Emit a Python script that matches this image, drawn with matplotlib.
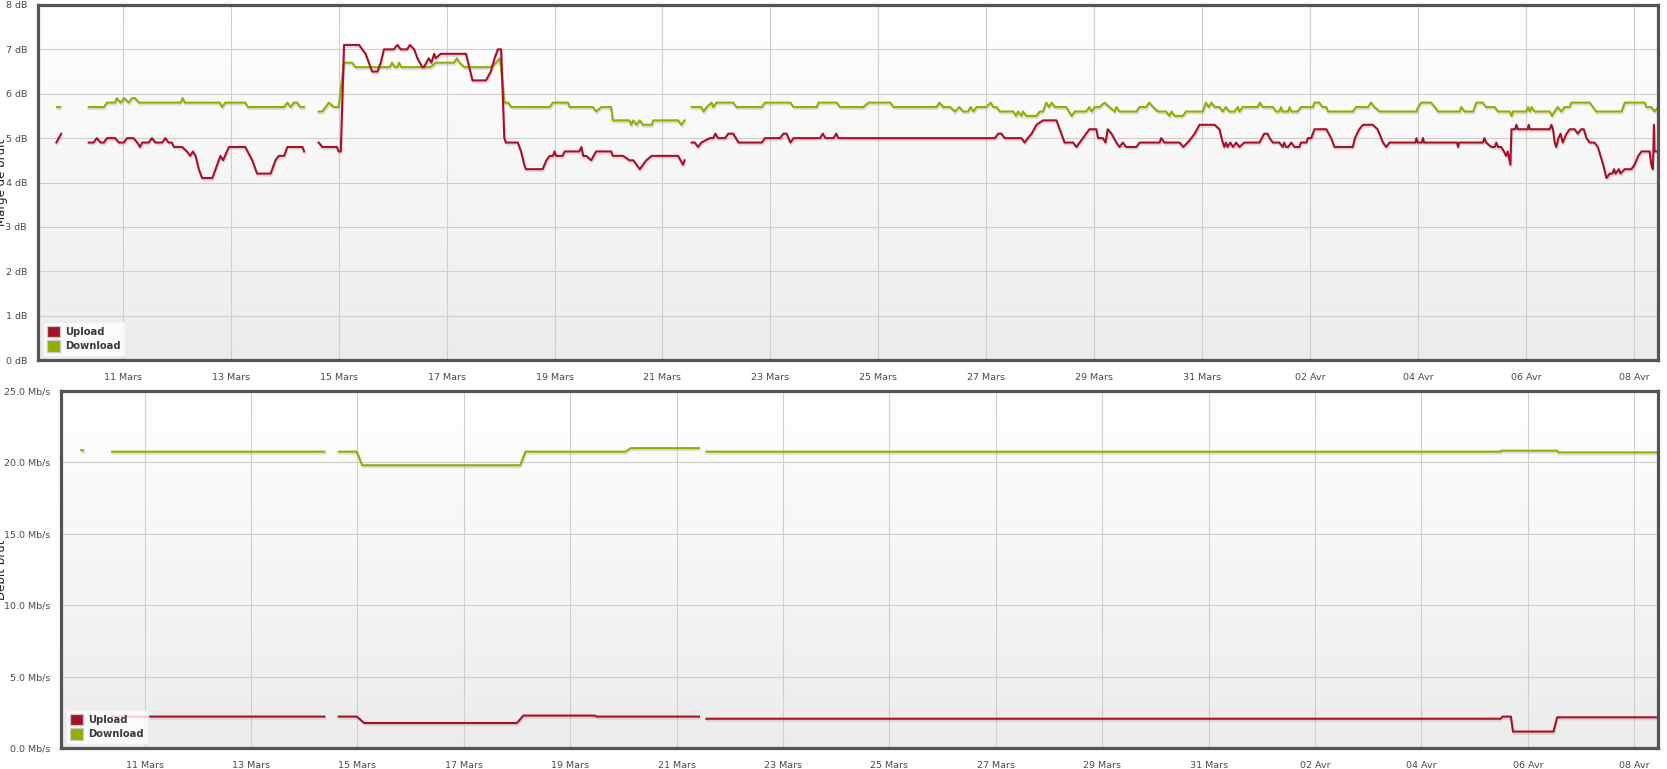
import numpy as np
import matplotlib
matplotlib.use("Agg")
import matplotlib.pyplot as plt
from matplotlib.patches import Patch
from matplotlib.colors import LinearSegmentedColormap
import matplotlib.patheffects as pe

# ---------------- data (x = days since 11 Mars 00:00) ----------------
xtick_days = [0, 2, 4, 6, 8, 10, 12, 14, 16, 18, 20, 22, 24, 26, 28]
xtick_labels = ["11 Mars", "13 Mars", "15 Mars", "17 Mars", "19 Mars", "21 Mars",
                "23 Mars", "25 Mars", "27 Mars", "29 Mars", "31 Mars",
                "02 Avr", "04 Avr", "06 Avr", "08 Avr"]
series_names = ["Upload", "Download"]

# Marge de bruit (dB) - Upload
snr_up = [(-1.23, 4.9), (-1.14, 5.1), None,
    (-0.63, 4.9), (-0.54, 4.9), (-0.48, 5.0), (-0.41, 4.9), (-0.35, 4.9), (-0.29, 5.0), (-0.14, 5.0),
    (-0.07, 4.9), (0.02, 4.9), (0.08, 5.0), (0.20, 5.0), (0.27, 4.9), (0.32, 4.8), (0.36, 4.9),
    (0.48, 4.9), (0.54, 5.0), (0.61, 4.9), (0.73, 4.9), (0.79, 5.0), (0.85, 4.9), (0.91, 4.9),
    (0.95, 4.8), (1.10, 4.8), (1.19, 4.7), (1.25, 4.6), (1.30, 4.7), (1.35, 4.6), (1.41, 4.3),
    (1.47, 4.1), (1.66, 4.1), (1.75, 4.4), (1.81, 4.6), (1.86, 4.5), (1.93, 4.7), (1.97, 4.8),
    (2.27, 4.8), (2.40, 4.5), (2.49, 4.2), (2.74, 4.2), (2.83, 4.5), (2.89, 4.6), (2.99, 4.6),
    (3.05, 4.8), (3.33, 4.8), (3.36, 4.7), None,
    (3.63, 4.9), (3.70, 4.8), (3.97, 4.8), (4.00, 4.7), (4.04, 4.7), (4.10, 7.1), (4.38, 7.1),
    (4.50, 6.9), (4.59, 6.6), (4.62, 6.5), (4.72, 6.5), (4.78, 6.7), (4.84, 7.0), (5.02, 7.0),
    (5.09, 7.1), (5.15, 7.0), (5.27, 7.0), (5.32, 7.1), (5.40, 7.0), (5.46, 6.8), (5.55, 6.6),
    (5.58, 6.6), (5.67, 6.8), (5.72, 6.7), (5.77, 6.9), (5.80, 6.8), (5.89, 6.9), (6.36, 6.9),
    (6.42, 6.6), (6.48, 6.3), (6.73, 6.3), (6.82, 6.5), (6.89, 6.8), (6.95, 7.0), (7.01, 7.0),
    (7.07, 5.0), (7.10, 4.9), (7.32, 4.9), (7.38, 4.7), (7.44, 4.4), (7.47, 4.3), (7.78, 4.3),
    (7.85, 4.5), (7.91, 4.6), (7.97, 4.6), (8.00, 4.7), (8.03, 4.6), (8.15, 4.6), (8.19, 4.7),
    (8.46, 4.7), (8.50, 4.8), (8.53, 4.6), (8.59, 4.6), (8.68, 4.5), (8.77, 4.7), (9.05, 4.7),
    (9.08, 4.6), (9.27, 4.6), (9.39, 4.5), (9.46, 4.5), (9.58, 4.3), (9.70, 4.5), (9.80, 4.6),
    (10.29, 4.6), (10.38, 4.4), (10.41, 4.5), None,
    (10.54, 4.9), (10.60, 4.9), (10.66, 4.8), (10.72, 4.9), (10.88, 5.0), (10.94, 5.0), (10.98, 5.1),
    (11.03, 5.0), (11.16, 5.0), (11.22, 5.1), (11.31, 5.1), (11.41, 4.9), (11.84, 4.9), (11.90, 5.0),
    (12.18, 5.0), (12.24, 5.1), (12.30, 5.1), (12.37, 4.9), (12.43, 5.0), (12.92, 5.0), (12.97, 5.1),
    (13.02, 5.0), (13.17, 5.0), (13.22, 5.1), (13.26, 5.0), (16.16, 5.0), (16.22, 5.1), (16.28, 5.1),
    (16.34, 5.0), (16.65, 5.0), (16.71, 4.9), (16.77, 5.0), (16.84, 5.1), (16.93, 5.3), (17.05, 5.4),
    (17.30, 5.4), (17.36, 5.2), (17.45, 4.9), (17.61, 4.9), (17.67, 4.8), (17.73, 4.9), (17.79, 5.0),
    (17.85, 5.1), (17.91, 5.2), (18.04, 5.2), (18.07, 5.0), (18.16, 5.0), (18.21, 4.9), (18.25, 5.2),
    (18.32, 5.1), (18.41, 4.9), (18.47, 4.8), (18.53, 4.9), (18.59, 4.8), (18.78, 4.8), (18.84, 4.9),
    (19.21, 4.9), (19.24, 5.0), (19.30, 4.9), (19.58, 4.9), (19.65, 4.8), (19.73, 4.9), (19.80, 5.0),
    (19.86, 5.1), (19.95, 5.3), (20.23, 5.3), (20.32, 5.2), (20.38, 4.9), (20.41, 4.8), (20.44, 4.9),
    (20.47, 4.8), (20.52, 4.9), (20.57, 4.8), (20.63, 4.9), (20.69, 4.8), (20.78, 4.9), (21.06, 4.9),
    (21.15, 5.1), (21.21, 5.1), (21.25, 5.0), (21.31, 4.9), (21.43, 4.9), (21.49, 4.8), (21.52, 4.9),
    (21.55, 4.8), (21.59, 4.8), (21.65, 4.9), (21.71, 4.8), (21.80, 4.8), (21.83, 4.9), (21.93, 4.9),
    (21.96, 5.0), (22.02, 5.0), (22.05, 5.1), (22.08, 5.2), (22.30, 5.2), (22.39, 5.0), (22.45, 4.8),
    (22.79, 4.8), (22.83, 5.0), (22.91, 5.2), (22.98, 5.3), (23.16, 5.3), (23.25, 5.2), (23.35, 4.9),
    (23.41, 4.8), (23.47, 4.9), (23.95, 4.9), (23.97, 5.0), (23.99, 4.9), (24.07, 4.9), (24.09, 5.0),
    (24.11, 4.9), (24.72, 4.9), (24.74, 4.8), (24.76, 4.9), (25.20, 4.9), (25.23, 5.0), (25.26, 4.9),
    (25.36, 4.8), (25.42, 4.8), (25.45, 4.9), (25.48, 4.8), (25.54, 4.8), (25.59, 4.7), (25.63, 4.6),
    (25.66, 4.7), (25.71, 4.4), (25.73, 5.2), (25.80, 5.2), (25.82, 5.3), (25.85, 5.2), (26.03, 5.2),
    (26.05, 5.3), (26.07, 5.2), (26.44, 5.2), (26.47, 5.3), (26.50, 5.2), (26.53, 4.9), (26.56, 4.8),
    (26.60, 5.0), (26.64, 5.1), (26.68, 4.9), (26.75, 5.1), (26.81, 5.2), (26.90, 5.2), (26.96, 5.1),
    (27.02, 5.2), (27.07, 5.2), (27.12, 5.0), (27.18, 4.9), (27.27, 4.9), (27.33, 4.8), (27.38, 4.6),
    (27.43, 4.4), (27.49, 4.1), (27.55, 4.2), (27.60, 4.2), (27.63, 4.3), (27.66, 4.2), (27.72, 4.3),
    (27.75, 4.2), (27.83, 4.3), (27.95, 4.3), (28.01, 4.4), (28.08, 4.6), (28.14, 4.7), (28.29, 4.7),
    (28.32, 4.4), (28.35, 4.3), (28.37, 5.3), (28.38, 4.7), (28.50, 4.7)]

# Marge de bruit (dB) - Download
snr_down = [(-1.22, 5.7), (-1.16, 5.7), None,
    (-0.63, 5.7), (-0.35, 5.7), (-0.29, 5.8), (-0.14, 5.8), (-0.11, 5.9), (-0.04, 5.8), (0.03, 5.9),
    (0.11, 5.8), (0.17, 5.9), (0.23, 5.9), (0.30, 5.8), (1.07, 5.8), (1.11, 5.9), (1.15, 5.8),
    (1.80, 5.8), (1.84, 5.7), (1.90, 5.8), (2.27, 5.8), (2.32, 5.7), (2.99, 5.7), (3.05, 5.8),
    (3.11, 5.7), (3.17, 5.8), (3.23, 5.8), (3.29, 5.7), (3.36, 5.7), None,
    (3.63, 5.6), (3.70, 5.6), (3.82, 5.8), (3.91, 5.7), (4.00, 5.7), (4.10, 6.7), (4.25, 6.7),
    (4.31, 6.6), (4.95, 6.6), (4.99, 6.7), (5.04, 6.6), (5.09, 6.6), (5.12, 6.7), (5.16, 6.6),
    (5.70, 6.6), (5.80, 6.7), (6.14, 6.7), (6.19, 6.8), (6.24, 6.7), (6.33, 6.6), (6.82, 6.6),
    (6.92, 6.7), (6.99, 6.8), (7.04, 6.2), (7.07, 5.8), (7.14, 5.8), (7.20, 5.7), (7.91, 5.7),
    (7.97, 5.8), (8.25, 5.8), (8.28, 5.7), (8.71, 5.7), (8.77, 5.6), (8.87, 5.7), (9.05, 5.7),
    (9.08, 5.4), (9.39, 5.4), (9.42, 5.3), (9.46, 5.4), (9.52, 5.3), (9.58, 5.4), (9.64, 5.3),
    (9.80, 5.3), (9.83, 5.4), (10.29, 5.4), (10.35, 5.3), (10.41, 5.4), None,
    (10.54, 5.7), (10.72, 5.7), (10.76, 5.6), (10.82, 5.7), (10.91, 5.8), (10.94, 5.7), (11.00, 5.8),
    (11.31, 5.8), (11.37, 5.7), (11.84, 5.7), (11.90, 5.8), (12.37, 5.8), (12.43, 5.7), (12.86, 5.7),
    (12.89, 5.8), (13.23, 5.8), (13.29, 5.7), (13.72, 5.7), (13.82, 5.8), (14.22, 5.8), (14.28, 5.7),
    (15.08, 5.7), (15.13, 5.8), (15.20, 5.7), (15.33, 5.7), (15.42, 5.6), (15.50, 5.7), (15.57, 5.6),
    (15.66, 5.6), (15.71, 5.7), (15.76, 5.6), (15.82, 5.7), (16.00, 5.7), (16.08, 5.8), (16.13, 5.7),
    (16.19, 5.7), (16.25, 5.6), (16.50, 5.6), (16.55, 5.5), (16.59, 5.6), (16.65, 5.5), (16.68, 5.6),
    (16.74, 5.5), (16.93, 5.5), (16.99, 5.6), (17.05, 5.6), (17.11, 5.8), (17.16, 5.7), (17.21, 5.8),
    (17.27, 5.7), (17.48, 5.7), (17.58, 5.5), (17.64, 5.6), (17.85, 5.6), (17.91, 5.7), (17.95, 5.6),
    (18.01, 5.7), (18.10, 5.7), (18.19, 5.8), (18.28, 5.7), (18.38, 5.6), (18.41, 5.7), (18.47, 5.6),
    (18.78, 5.6), (18.84, 5.7), (18.96, 5.7), (19.02, 5.8), (19.09, 5.7), (19.18, 5.6), (19.33, 5.6),
    (19.39, 5.5), (19.43, 5.6), (19.49, 5.5), (19.64, 5.5), (19.70, 5.6), (20.01, 5.6), (20.07, 5.8),
    (20.12, 5.7), (20.17, 5.8), (20.23, 5.7), (20.32, 5.7), (20.38, 5.6), (20.44, 5.7), (20.50, 5.6),
    (20.60, 5.6), (20.66, 5.7), (20.69, 5.6), (20.75, 5.7), (21.03, 5.7), (21.07, 5.8), (21.12, 5.7),
    (21.31, 5.7), (21.37, 5.6), (21.43, 5.6), (21.46, 5.7), (21.49, 5.6), (21.59, 5.6), (21.62, 5.7),
    (21.65, 5.6), (21.77, 5.6), (21.83, 5.7), (22.05, 5.7), (22.08, 5.8), (22.17, 5.8), (22.23, 5.7),
    (22.30, 5.7), (22.33, 5.6), (22.79, 5.6), (22.85, 5.7), (23.07, 5.7), (23.13, 5.8), (23.19, 5.7),
    (23.29, 5.6), (23.97, 5.6), (24.00, 5.7), (24.06, 5.8), (24.24, 5.8), (24.31, 5.7), (24.37, 5.6),
    (24.77, 5.6), (24.80, 5.7), (24.86, 5.6), (25.02, 5.6), (25.05, 5.7), (25.08, 5.8), (25.20, 5.8),
    (25.26, 5.7), (25.42, 5.7), (25.48, 5.6), (25.70, 5.6), (25.73, 5.5), (25.76, 5.6), (26.00, 5.6),
    (26.04, 5.7), (26.07, 5.6), (26.10, 5.7), (26.16, 5.6), (26.44, 5.6), (26.48, 5.5), (26.53, 5.6),
    (26.59, 5.7), (26.65, 5.6), (26.72, 5.7), (26.81, 5.7), (26.84, 5.8), (27.18, 5.8), (27.24, 5.7),
    (27.30, 5.6), (27.77, 5.6), (27.80, 5.7), (27.83, 5.8), (28.20, 5.8), (28.23, 5.7), (28.32, 5.7),
    (28.38, 5.6), (28.45, 5.7), (28.50, 5.7)]

# Débit brut (Mb/s)
rate_up = [(-1.19, 2.2), (-1.15, 2.2), None,
    (-0.61, 2.2), (3.38, 2.2), None,
    (3.65, 2.2), (3.99, 2.2), (4.13, 1.75), (7.00, 1.75), (7.12, 2.27), (8.46, 2.27), (8.50, 2.2),
    (10.42, 2.2), None,
    (10.56, 2.05), (25.49, 2.05), (25.52, 2.2), (25.68, 2.2), (25.72, 1.15), (26.48, 1.15),
    (26.55, 2.15), (28.50, 2.15)]
rate_down = [(-1.19, 20.85), (-1.15, 20.85), None,
    (-0.61, 20.75), (3.38, 20.75), None,
    (3.65, 20.75), (3.99, 20.75), (4.09, 19.8), (7.06, 19.8), (7.16, 20.75), (9.04, 20.75),
    (9.14, 21.0), (10.42, 21.0), None,
    (10.56, 20.75), (25.49, 20.75), (25.50, 20.82), (26.55, 20.82), (26.57, 20.7), (28.50, 20.7)]

snr_ticks = [0, 1, 2, 3, 4, 5, 6, 7, 8]
rate_ticks = [0, 5, 10, 15, 20, 25]

# ---------------- style ----------------
RED = "#A8102A"
GREEN = "#93AD00"
FRAME = "#545454"
GRID = "#cfcfcf"
TXT = "#4a4a4a"


def split(points):
    xs, ys = [], []
    for p in points:
        if p is None:
            xs.append(np.nan); ys.append(np.nan)
        else:
            xs.append(p[0]); ys.append(p[1])
    return np.array(xs, float), np.array(ys, float)


W, H = 1667, 769
fig = plt.figure(figsize=(W / 100, H / 100), dpi=100)
plt.rcParams["font.family"] = ["DejaVu Sans"]

def make_ax(left, top, right, bottom):
    return fig.add_axes([left / W, 1 - bottom / H, (right - left) / W, (bottom - top) / H])

ax1 = make_ax(38, 5, 1658, 360)
ax2 = make_ax(61, 391, 1658, 748)

grad_cmap = LinearSegmentedColormap.from_list("bg", ["#ececec", "#ffffff"])
shadow = [pe.SimpleLineShadow(offset=(0.6, -1.4), shadow_color="#888888", alpha=0.25), pe.Normal()]

def style(ax, ylim, yticks, yfmt, ylabel_text, ylabel_y):
    ax.imshow(np.linspace(0, 1, 256).reshape(-1, 1), cmap=grad_cmap, origin="lower",
              extent=(0, 1, 0, 1), transform=ax.transAxes, aspect="auto", zorder=0)
    ax.set_xlim(-1.57, 28.445)
    ax.set_ylim(*ylim)
    ax.set_xticks(xtick_days)
    ax.set_xticklabels(xtick_labels)
    ax.set_yticks(yticks)
    ax.set_yticklabels([yfmt(v) for v in yticks])
    ax.grid(True, color=GRID, linewidth=0.8, zorder=1)
    ax.set_axisbelow(True)
    ax.tick_params(length=0, labelsize=6.8, colors=TXT, pad=8)
    ax.tick_params(axis="x", pad=9)
    for s in ax.spines.values():
        s.set_color(FRAME)
        s.set_linewidth(2.3)
        s.set_zorder(5)
    fig.text(1.2 / W, 1 - ylabel_y / H, ylabel_text, rotation=90, ha="center", va="center",
             fontsize=8.5, color="#222222")
    handles = [Patch(facecolor=RED, edgecolor="#c8c8c8", linewidth=0.9),
               Patch(facecolor=GREEN, edgecolor="#c8c8c8", linewidth=0.9)]
    leg = ax.legend(handles, series_names, loc="lower left",
                    prop={"weight": "bold", "size": 7.2}, handlelength=1.35, handleheight=1.35,
                    handletextpad=0.5, labelspacing=0.3, borderpad=0.4, borderaxespad=0.45,
                    frameon=True, fancybox=False, framealpha=0.8, facecolor="white",
                    edgecolor="#eeeeee")
    for t in leg.get_texts():
        t.set_color("#3a3a3a")
    leg.set_zorder(6)

style(ax1, (0, 8), snr_ticks, lambda v: f"{v} dB", "Marge de bruit", 182)
style(ax2, (0, 25), rate_ticks, lambda v: f"{v:.1f} Mb/s", "Débit brut", 570)

for ax, (up, down) in ((ax1, (snr_up, snr_down)), (ax2, (rate_up, rate_down))):
    x, y = split(down)
    ax.plot(x, y, color=GREEN, linewidth=1.5, zorder=3, path_effects=shadow, solid_joinstyle="round")
    x, y = split(up)
    ax.plot(x, y, color=RED, linewidth=1.5, zorder=3, path_effects=shadow, solid_joinstyle="round")

fig.savefig("out.png", dpi=100)
